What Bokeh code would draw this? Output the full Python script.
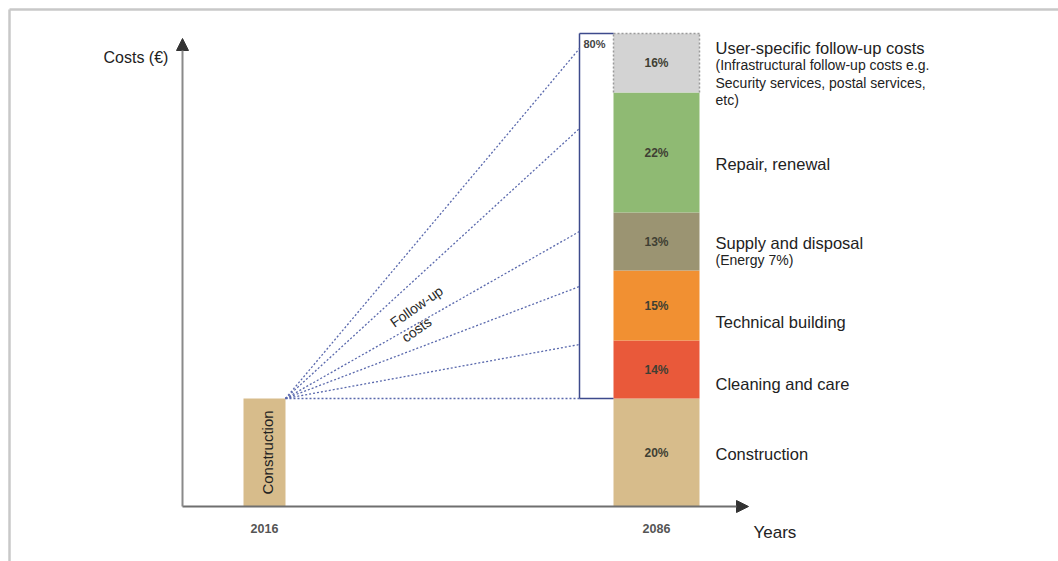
from bokeh.plotting import figure
from bokeh.models import Range1d, Arrow, NormalHead, ColumnDataSource
from bokeh.core.properties import value
from bokeh.embed import file_html
from bokeh.resources import INLINE
import numpy as np

# ---------------- data ----------------
years = ["2016", "2086"]
categories = ["Construction", "Cleaning and care", "Technical building",
              "Supply and disposal", "Repair, renewal", "User-specific follow-up costs"]
shares_pct = [20, 14, 15, 13, 22, 16]
# segment heights as drawn in the (schematic, not-to-scale) original
drawn_heights = [108, 58, 70, 58, 120, 59]
followup_pct = 80
# where the "follow-up costs" fan lines meet the 80% box (same height units)
fan_targets = [108, 162, 220, 275, 378, 458]
sub_labels = {
    "User-specific follow-up costs": ["(Infrastructural follow-up costs e.g.",
                                      "Security services, postal services,", "etc)"],
    "Supply and disposal": ["(Energy 7%)"],
}
colors = ["#d7bc8b", "#e9593a", "#f19032", "#9b9472", "#8fba73", "#d3d3d3"]

FONT = value("Liberation Sans")

p = figure(width=1058, height=561, x_range=Range1d(0, 1058), y_range=Range1d(-55, 506),
           output_backend="svg", toolbar_location=None, min_border=0)
p.xaxis.visible = False
p.yaxis.visible = False
p.grid.visible = False
p.outline_line_color = None
p.background_fill_color = "white"
p.border_fill_color = "white"

# page frame (left and top rule)
p.line([9, 9], [-60, 497], line_color="#c8c8c8", line_width=2.5)
p.line([9, 1060], [497, 497], line_color="#c8c8c8", line_width=2.5)

# bar geometry
x2016, w2016 = 264, 42
x2086, w2086 = 656, 86
tops = list(np.cumsum(drawn_heights))
bottoms = [0] + tops[:-1]

# 2016 construction bar
p.quad(left=x2016 - w2016 / 2, right=x2016 + w2016 / 2, bottom=0, top=drawn_heights[0],
       fill_color=colors[0], line_color=None)
p.text(x=[x2016 + 3], y=[drawn_heights[0] / 2], text=[categories[0]], angle=np.pi / 2,
       text_align="center", text_baseline="middle", text_font=FONT,
       text_font_size="15px", text_color="#222222")

# 2086 stacked bar
src = ColumnDataSource(dict(bottom=bottoms, top=tops, color=colors,
                            mid=[(b + t) / 2 for b, t in zip(bottoms, tops)],
                            lab=[f"{v}%" for v in shares_pct], cat=categories))
p.quad(left=x2086 - w2086 / 2, right=x2086 + w2086 / 2, bottom="bottom", top="top",
       fill_color="color", line_color=None, source=src)
p.text(x=x2086, y="mid", text="lab", source=src, text_align="center", text_baseline="middle",
       text_font=FONT, text_font_style="bold", text_font_size="12px", text_color="#3f3f33")

# dotted outline of the user-specific segment
gl, gr = x2086 - w2086 / 2, x2086 + w2086 / 2
p.multi_line(xs=[[gl, gr], [gr, gr], [gl, gl]],
             ys=[[tops[-1], tops[-1]], [bottoms[-1], tops[-1]], [bottoms[-1], tops[-1]]],
             line_color="#9a9a9a", line_width=1.5, line_dash="2 2")

# 80% follow-up box
bl = 579
fb, ft = drawn_heights[0], tops[-1]
p.multi_line(xs=[[bl, bl], [bl, gl], [bl, gl]], ys=[[fb, ft], [ft, ft], [fb, fb]],
             line_color="#3d4a8c", line_width=1.5)
p.text(x=[bl + 4], y=[ft - 10], text=[f"{followup_pct}%"], text_align="left",
       text_baseline="middle", text_font=FONT, text_font_style="bold",
       text_font_size="11px", text_color="#444444")

# fan of follow-up cost lines
ox, oy = x2016 + w2016 / 2, drawn_heights[0]
p.segment(x0=[ox] * len(fan_targets), y0=[oy] * len(fan_targets),
          x1=[bl] * len(fan_targets), y1=fan_targets,
          line_color="#5a69ad", line_width=1.3, line_dash="2 2")
ang = np.deg2rad(35)
p.text(x=[416, 416], y=[200, 177], text=["Follow-up", "costs"], angle=ang,
       text_align="center", text_baseline="middle", text_font=FONT,
       text_font_size="14px", text_color="#2a2a2a")

# category labels on the right
lx = 715
main_y = [53, 123, 185, 264, 343, 459]
for cat, yv in zip(categories, main_y):
    p.text(x=[lx], y=[yv], text=[cat], text_align="left", text_baseline="middle",
           text_font=FONT, text_font_size="16.5px", text_color="#222222")
    for i, s in enumerate(sub_labels.get(cat, [])):
        p.text(x=[lx], y=[yv - 17.5 * (i + 1)], text=[s], text_align="left",
               text_baseline="middle", text_font=FONT, text_font_size="14px",
               text_color="#222222")

# axes with arrows
p.add_layout(Arrow(end=NormalHead(size=12, fill_color="#333333", line_color="#333333"),
                   x_start=182, y_start=0, x_end=748, y_end=0,
                   line_color="#6f6f6f", line_width=2))
p.add_layout(Arrow(end=NormalHead(size=12, fill_color="#333333", line_color="#333333"),
                   x_start=182, y_start=0, x_end=182, y_end=468,
                   line_color="#8a8a8a", line_width=2))
p.text(x=[x2016, x2086], y=[-22, -22], text=years, text_align="center",
       text_baseline="middle", text_font=FONT, text_font_style="bold",
       text_font_size="12.5px", text_color="#555555")
p.text(x=[753], y=[-26], text=["Years"], text_align="left", text_baseline="middle",
       text_font=FONT, text_font_size="17px", text_color="#222222")
p.text(x=[103], y=[449], text=["Costs (€)"], text_align="left", text_baseline="middle",
       text_font=FONT, text_font_size="16px", text_color="#222222")

open("out.html", "w").write(file_html(p, INLINE))
